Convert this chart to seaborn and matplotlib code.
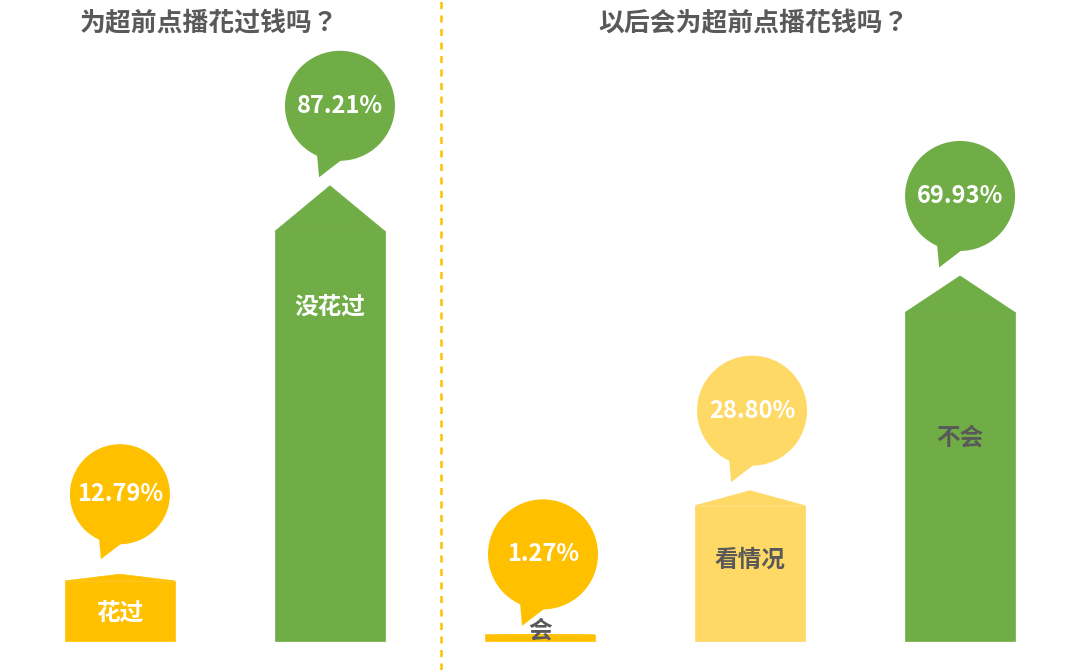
import matplotlib
matplotlib.use("Agg")
import matplotlib.pyplot as plt
import matplotlib.transforms as mtransforms
from matplotlib.patches import Circle, Polygon
import seaborn as sns
import pandas as pd

# data
categories = ["花过", "没花过", "会", "看情况", "不会"]
values = [12.79, 87.21, 1.27, 28.80, 69.93]
colors = ["#FFC000", "#70AD47", "#FFC000", "#FFD966", "#70AD47"]
label_colors = ["white", "white", "#595959", "#595959", "#595959"]
label_y = [5.4, 64, 2.1, 15.5, 39]          # where the name sits inside the bar (%)
bubble_r = [50, 55, 55, 55, 55]             # bubble radius in px
bubble_dx = [0, 10, 3, 2, 0]                # bubble shift in px
titles = ["为超前点播花过钱吗？", "以后会为超前点播花钱吗？"]
title_x = [0.425, 3.016]

sns.set_theme(style="white")
plt.rcParams["font.family"] = ["Noto Sans CJK SC", "DejaVu Sans"]

df = pd.DataFrame({"cat": categories, "value": values})
roof = 0.1
df["body"] = df["value"] * (1 - roof)

fig = plt.figure(figsize=(10.8, 6.7), dpi=100)
ax = fig.add_axes([0, 0, 1, 1])
sns.barplot(data=df, x="cat", y="body", hue="cat", palette=colors, width=0.524,
            dodge=False, legend=False, saturation=1, ax=ax)
ax.set_xlim(-0.571, 4.571)
ax.set_ylim(-5.56, 122.8)

# pointed roofs on top of the bars
for p, v, c in zip(ax.patches, values, colors):
    x0, w, h = p.get_x(), p.get_width(), p.get_height()
    p.set_edgecolor(c)
    p.set_linewidth(0.5)
    ax.fill([x0, x0 + w, x0 + w / 2], [h, h, v], color=c, ec=c, lw=0.5)

# speech bubbles, drawn in pixel units above each bar
for i, (v, c) in enumerate(zip(values, colors)):
    tr = mtransforms.Affine2D() + mtransforms.ScaledTranslation(i, v, ax.transData)
    r = bubble_r[i]
    cx, cy = bubble_dx[i], 80
    ax.add_patch(Circle((cx, cy), r, color=c, lw=0, transform=tr))
    tail = [(cx - 0.42 * r, cy - 0.86 * r), (cx - 0.38 * r, cy - 1.3 * r), (cx + 0.05 * r, cy - 0.97 * r)]
    ax.add_patch(Polygon(tail, closed=True, color=c, lw=0, transform=tr))
    ax.text(cx, cy, f"{v:.2f}%", transform=tr, ha="center", va="center",
            color="white", fontsize=17, fontweight="bold")

# category names
for i, (name, y, lc) in enumerate(zip(categories, label_y, label_colors)):
    ax.text(i, y, name, ha="center", va="center", color=lc, fontsize=17, fontweight="bold")

# titles and divider
for tx, t in zip(title_x, titles):
    ax.text(tx, 118.3, t, ha="center", va="center", color="#595959", fontsize=18.6,
            fontweight="bold", family=["Noto Sans CJK TC", "DejaVu Sans"])
ax.axvline(1.529, color="#FFC000", lw=1.8, ls=(0, (2.8, 2.6)))

ax.set_axis_off()
fig.savefig("out.png", dpi=100)
